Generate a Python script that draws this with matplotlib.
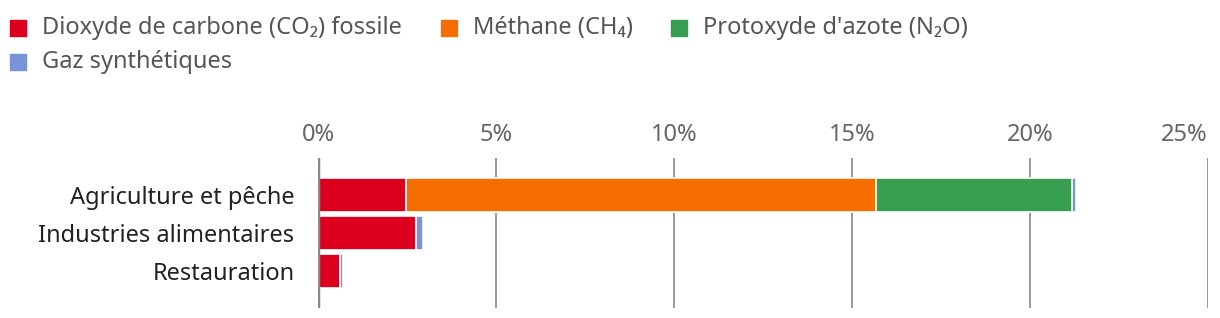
import matplotlib.pyplot as plt
from matplotlib.patches import Rectangle

plt.rcParams['font.family'] = ['Noto Sans', 'DejaVu Sans']

categories = ['Agriculture et pêche', 'Industries alimentaires', 'Restauration']
series_names = ['Dioxyde de carbone (CO₂) fossile', 'Méthane (CH₄)',
                "Protoxyde d'azote (N₂O)", 'Gaz synthétiques']
co2 = [2.47, 2.75, 0.62]
ch4 = [13.2, 0.0, 0.0]
n2o = [5.5, 0.0, 0.0]
gaz = [0.12, 0.2, 0.08]
colors = ['#dc001e', '#f56c00', '#389e50', '#7a92d8']
xticks = [0, 5, 10, 15, 20, 25]

fig = plt.figure(figsize=(12.2, 3.18), dpi=100)
ax = fig.add_axes([318 / 1220, 10 / 318, 890 / 1220, 150 / 318])

y = list(range(len(categories)))
left = [0.0] * len(categories)
for vals, col in zip([co2, ch4, n2o, gaz], colors):
    ax.barh(y, vals, left=left, height=0.9, color=col, edgecolor='white',
            linewidth=1.2, zorder=3)
    left = [l + v for l, v in zip(left, vals)]

ax.set_xlim(0, 25)
ax.set_ylim(2.99, -0.98)
ax.set_xticks(xticks)
ax.set_xticklabels([f'{t}%' for t in xticks])
ax.xaxis.tick_top()
ax.tick_params(axis='x', length=0, pad=8, labelsize=17, labelcolor='#666666')
ax.get_xticklabels()[-1].set_ha('right')
ax.set_yticks(y)
ax.set_yticklabels(categories)
ax.tick_params(axis='y', length=0, pad=17, labelsize=17, labelcolor='#222222')
ax.grid(axis='x', color='#888888', linewidth=1.2, zorder=0)
for s in ax.spines.values():
    s.set_visible(False)
ax.axvline(0, color='#888888', linewidth=2.5, zorder=4)

# legend drawn by hand (wraps onto two lines like the original)
leg_pos = [(10, 28), (441, 28), (671, 28), (10, 62)]
for (px, py), name, col in zip(leg_pos, series_names, colors):
    fig.patches.append(Rectangle((px / 1220, (318 - py - 8) / 318), 16 / 1220, 16 / 318,
                                 transform=fig.transFigure, color=col))
    fig.text((px + 32) / 1220, (318 - py) / 318, name, fontsize=17,
             color='#555555', va='center', ha='left')

fig.savefig('out.png', dpi=100)
